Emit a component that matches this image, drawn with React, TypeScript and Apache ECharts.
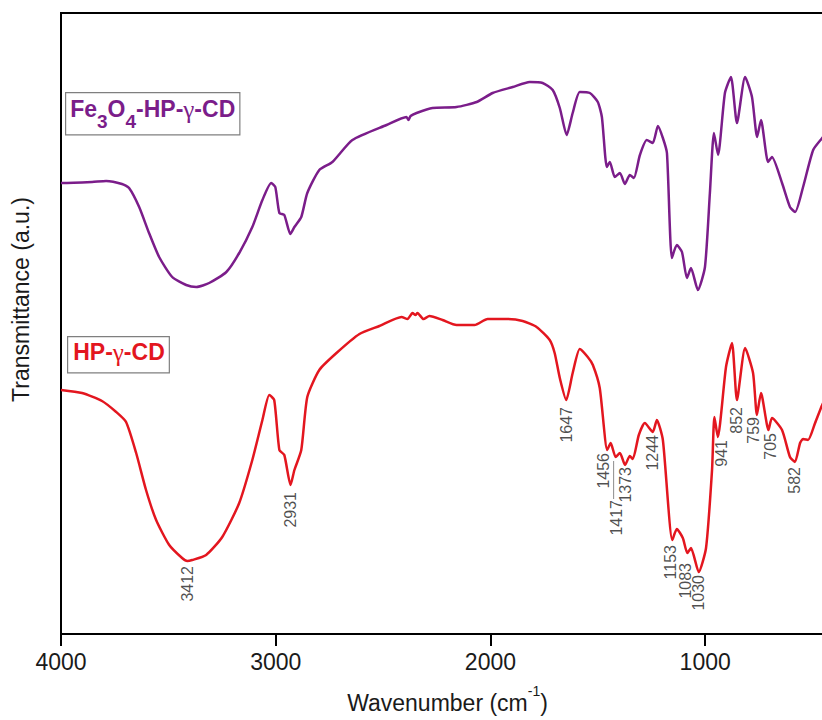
import { useEffect, useRef } from 'react';
import * as echarts from 'echarts';

// FTIR spectra: [wavenumber (cm-1), transmittance (a.u.)]
const fe3o4Spectrum: [number, number][] = [
  [4000, 45.1], [3995, 45.1], [3855, 45.2], [3790, 45.3], [3716, 45.0], [3683, 44.6],
  [3636, 42.7], [3590, 40.1], [3543, 37.7], [3482, 35.7], [3417, 34.9], [3370, 34.7],
  [3310, 35.1], [3230, 36.2], [3170, 38.1], [3109, 40.7], [3062, 43.4], [3021, 45.1],
  [3002, 44.7], [2983, 42.1], [2960, 41.9], [2932, 40.0], [2913, 40.7], [2881, 41.7],
  [2853, 44.1], [2797, 46.4], [2736, 47.2], [2643, 49.4], [2484, 50.9], [2391, 51.7],
  [2382, 51.4], [2372, 51.8], [2344, 52.1], [2270, 52.6], [2158, 52.7], [2064, 53.2],
  [1990, 54.1], [1896, 54.7], [1817, 55.2], [1757, 55.1], [1710, 54.4], [1677, 52.6],
  [1645, 49.9], [1617, 52.1], [1584, 54.2], [1537, 54.1], [1500, 53.2], [1481, 51.7],
  [1458, 46.7], [1444, 47.2], [1421, 45.7], [1397, 46.1], [1374, 45.0], [1351, 45.9],
  [1332, 45.6], [1304, 47.9], [1272, 49.4], [1244, 49.1], [1220, 50.8], [1197, 49.6],
  [1178, 48.1], [1155, 37.6], [1132, 38.9], [1108, 38.2], [1085, 35.6], [1066, 36.6],
  [1034, 34.4], [1001, 36.7], [978, 44.1], [959, 50.1], [940, 47.9], [908, 54.1],
  [880, 55.7], [852, 51.1], [814, 55.7], [782, 53.7], [758, 49.7], [740, 51.4],
  [707, 47.2], [689, 47.7], [642, 45.1], [605, 42.7], [581, 42.2], [544, 44.7],
  [497, 48.4], [455, 49.6], [418, 50.6], [400, 51.0],
];

const hpGammaCdSpectrum: [number, number][] = [
  [4000, 24.4], [3902, 24.1], [3809, 23.3], [3743, 22.2], [3697, 21.2], [3650, 18.1],
  [3604, 14.4], [3557, 11.4], [3496, 8.9], [3436, 7.6], [3412, 7.3], [3389, 7.4],
  [3324, 7.9], [3249, 9.7], [3170, 13.1], [3109, 17.4], [3062, 21.4], [3030, 23.9],
  [3007, 23.4], [2983, 18.4], [2960, 17.9], [2931, 14.9], [2913, 16.4], [2881, 18.4],
  [2853, 23.7], [2797, 26.4], [2717, 28.1], [2610, 30.0], [2517, 30.8], [2414, 31.7],
  [2386, 31.5], [2363, 32.1], [2349, 31.9], [2340, 32.1], [2312, 31.5], [2284, 31.8],
  [2223, 31.4], [2158, 30.9], [2074, 30.9], [2013, 31.5], [1925, 31.5], [1850, 31.3],
  [1785, 30.7], [1724, 29.4], [1701, 28.1], [1677, 25.6], [1647, 23.4], [1617, 26.1],
  [1584, 28.5], [1547, 27.7], [1523, 26.9], [1491, 24.6], [1456, 18.4], [1440, 19.1],
  [1417, 17.7], [1397, 18.1], [1373, 16.9], [1351, 17.8], [1337, 17.5], [1309, 19.9],
  [1281, 21.1], [1244, 20.2], [1225, 21.4], [1197, 19.4], [1153, 9.4], [1132, 10.5],
  [1104, 9.6], [1083, 8.1], [1066, 8.6], [1030, 6.2], [996, 8.6], [968, 16.4],
  [957, 21.7], [941, 19.7], [903, 26.7], [875, 29.1], [852, 23.4], [814, 28.6],
  [777, 26.1], [759, 21.9], [740, 24.1], [705, 20.4], [689, 21.6], [642, 20.4],
  [605, 17.7], [582, 17.2], [558, 19.1], [544, 19.5], [521, 19.4], [488, 21.1],
  [455, 22.9], [418, 24.4], [400, 25.0],
];

// Assigned absorption bands of HP-γ-CD (cm-1)
const bandPeaks = [3412, 2931, 1647, 1456, 1417, 1373, 1244, 1153, 1083, 1030, 941, 852, 759, 705, 582];

const xTickValues = [1000, 2000, 3000, 4000];

// Placement of each band label below its minimum: gap and sideways nudge, px
const bandLabelGap = [5, 7, 7, 3, 43, 2, 3, 5, 10, 3, 3, 7, 2, 3, 5];
const bandLabelShift = [0, 0, 0, -4, 1, 0, 0, -2, -2, 0, 4, 0, -3, 2, 0];

const PURPLE = '#7b1d8a';
const RED = '#e3161f';
const FONT = '"Liberation Sans", Arial, sans-serif';

function valueAt(spectrum: [number, number][], wn: number): number {
  for (let i = 0; i < spectrum.length - 1; i++) {
    const [x0, y0] = spectrum[i];
    const [x1, y1] = spectrum[i + 1];
    if (wn <= x0 && wn >= x1) {
      if (x0 === x1) return y0;
      return y0 + ((wn - x0) / (x1 - x0)) * (y1 - y0);
    }
  }
  return spectrum[spectrum.length - 1][1];
}

function legendBox(left: number, top: number, text: string, color: string, withSub: boolean, padding: number[]) {
  const lh = withSub ? 34 : 30;
  return {
    type: 'text',
    left,
    top,
    z: 20,
    style: {
      text,
      padding,
      borderColor: '#7f7f7f',
      borderWidth: 1.2,
      backgroundColor: '#fff',
      rich: {
        b: { fill: color, fontFamily: FONT, fontWeight: 'bold', fontSize: 23, lineHeight: lh, verticalAlign: 'top' },
        s: { fill: color, fontFamily: FONT, fontWeight: 'bold', fontSize: 19, lineHeight: 20, verticalAlign: 'bottom' },
        g: { fill: color, fontFamily: '"Liberation Serif", "DejaVu Serif", serif', fontWeight: 'normal', fontSize: 25, lineHeight: lh, verticalAlign: 'top' },
      },
    },
  };
}

export default function App() {
  const ref = useRef<HTMLDivElement>(null);

  useEffect(() => {
    if (!ref.current) return;
    const chart = echarts.init(ref.current, null, { renderer: 'svg' });

    const legends = [
      legendBox(65, 92, '{b|Fe}{s|3}{b|O}{s|4}{b|-HP-}{g|γ}{b|-CD}', PURPLE, true, [4, 4, 3, 4]),
      legendBox(67, 336, '{b|HP-}{g|γ}{b|-CD}', RED, false, [3, 4, 2, 5]),
    ];

    const option: any = {
      animation: false,
      backgroundColor: '#fff',
      grid: {
        left: 61, right: 26, top: 13, bottom: 86,
        show: true, borderColor: '#000', borderWidth: 2, backgroundColor: 'transparent',
      },
      xAxis: {
        type: 'value',
        inverse: true,
        min: 400,
        max: 4000,
        axisLine: { show: true, lineStyle: { color: '#000', width: 2 } },
        axisTick: { show: true, inside: false, length: 12, customValues: xTickValues, lineStyle: { color: '#000', width: 2 } },
        axisLabel: {
          customValues: xTickValues,
          formatter: (v: number) => String(v),
          fontSize: 23,
          color: '#1a1a1a',
          fontFamily: FONT,
          margin: 16,
        },
        splitLine: { show: false },
        name: '{n|Wavenumber (cm}{sup|-1}{n|)}',
        nameLocation: 'middle',
        nameGap: 50,
        nameTextStyle: {
          rich: {
            n: { fontSize: 23, fontFamily: FONT, color: '#1a1a1a', lineHeight: 30, verticalAlign: 'bottom' },
            sup: { fontSize: 14, fontFamily: FONT, color: '#1a1a1a', lineHeight: 22, verticalAlign: 'top' },
          },
        },
      },
      yAxis: {
        type: 'value',
        min: 0,
        max: 62.1,
        axisLine: { show: true, lineStyle: { color: '#000', width: 2 } },
        axisTick: { show: false },
        axisLabel: { show: false },
        splitLine: { show: false },
        name: 'Transmittance (a.u.)',
        nameLocation: 'middle',
        nameGap: 29,
        nameTextStyle: { fontSize: 23, fontFamily: FONT, color: '#1a1a1a', padding: [0, 0, 0, 48] },
      },
      series: [
        {
          name: 'Fe3O4-HP-γ-CD',
          type: 'line',
          data: fe3o4Spectrum,
          showSymbol: false,
          symbol: 'none',
          smooth: 0.2,
          lineStyle: { color: PURPLE, width: 2.5 },
          z: 3,
        },
        {
          name: 'HP-γ-CD',
          type: 'line',
          data: hpGammaCdSpectrum,
          showSymbol: false,
          symbol: 'none',
          smooth: 0.2,
          lineStyle: { color: RED, width: 2.5 },
          z: 3,
        },
        {
          name: 'bands',
          type: 'scatter',
          symbolSize: 0.01,
          itemStyle: { color: 'rgba(0,0,0,0)' },
          silent: true,
          z: 5,
          data: bandPeaks.map((wn, i) => ({
            value: [wn, valueAt(hpGammaCdSpectrum, wn)],
            label: { distance: bandLabelGap[i], offset: [0, bandLabelShift[i]] },
          })),
          label: {
            show: true,
            position: 'bottom',
            rotate: 90,
            align: 'right',
            verticalAlign: 'middle',
            fontSize: 16,
            fontFamily: FONT,
            color: '#1f1f1f',
            formatter: (p: any) => String(p.value[0]),
          },
        },
      ],
      graphic: legends,
    };

    chart.setOption(option);

    // Thin leader from the 1417 band down to its label
    const p = chart.convertToPixel({ xAxisIndex: 0, yAxisIndex: 0 }, [1417, valueAt(hpGammaCdSpectrum, 1417)]) as number[];
    chart.setOption({
      graphic: [
        ...legends,
        {
          type: 'line',
          z: 10,
          shape: { x1: p[0] - 2, y1: p[1] + 4, x2: p[0] - 2, y2: p[1] + 42 },
          style: { stroke: '#8c8c8c', lineWidth: 1 },
        },
      ],
    });

    return () => chart.dispose();
  }, []);

  return (
    <div style={{ position: 'fixed', left: 0, top: 0, width: 822, height: 720, overflow: 'hidden', background: '#fff' }}>
      <div ref={ref} style={{ width: 860, height: 720 }} />
    </div>
  );
}
